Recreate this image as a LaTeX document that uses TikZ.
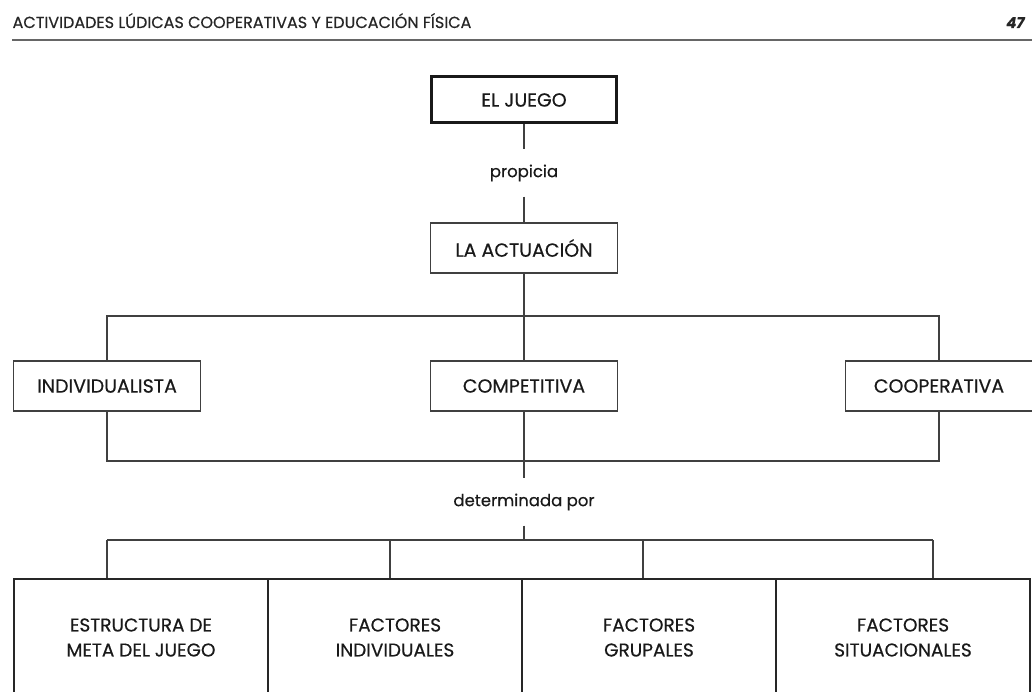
\documentclass[tikz,border=0pt]{standalone}
\usepackage{fontspec}
\setmainfont{Poppins}[FakeBold=0.4]
\begin{document}
\begin{tikzpicture}[x=1pt,y=-1pt,line width=1.2pt]
\tikzstyle{box}=[draw=black!75, rectangle, fill=white, inner sep=0pt, minimum width=187pt, minimum height=50pt, text=black!90, font=\fontsize{19}{22}\selectfont]
\tikzstyle{word}=[inner sep=0pt, minimum height=46pt, text=black!90, font=\fontsize{16.5}{20}\selectfont]
\tikzstyle{factor}=[box, line width=2.6pt, draw=black!85, minimum width=254pt, minimum height=117pt, align=center, font=\fontsize{18.5}{25}\selectfont]

\useasboundingbox (0,0) rectangle (1032,692);

% header of the page
\node[anchor=base west, inner sep=0pt, text=black!85, font=\fontsize{16}{18}\selectfont] (head) at (12,28) {ACTIVIDADES LÚDICAS COOPERATIVAS Y EDUCACIÓN FÍSICA};
\node[anchor=base east, inner sep=0pt, text=black!85, font=\fontsize{15}{18}\selectfont\bfseries\itshape] (page) at (1025,28) {47};
\draw[line width=2pt, black!60] (12,40) -- (1032,40);

\node[box, line width=3pt, draw=black!90, minimum width=185pt, minimum height=46pt] (juego) at (524,100) {EL JUEGO};
\node[word] (propicia) at (524,173) {propicia};
\node[box] (actuacion) at (524,248) {LA ACTUACIÓN};

\node[box] (indiv)  at (107,386) {INDIVIDUALISTA};
\node[box] (compet) at (524,386) {COMPETITIVA};
\node[box] (coop)   at (939,386) {COOPERATIVA};

\node[word] (det) at (524,502) {determinada por};

\node[factor] (meta)  at (141,637.5) {ESTRUCTURA DE\\META DEL JUEGO};
\node[factor] (indf)  at (395,637.5) {FACTORES\\INDIVIDUALES};
\node[factor] (grup)  at (649,637.5) {FACTORES\\GRUPALES};
\node[factor] (situ)  at (903,637.5) {FACTORES\\SITUACIONALES};

\coordinate (up)    at (524,316);
\coordinate (down)  at (524,461);
\coordinate (split) at (524,540);
\coordinate (f1) at (107,540);
\coordinate (f2) at (390,540);
\coordinate (f3) at (643,540);
\coordinate (f4) at (933,540);

\begin{scope}[draw=black!75]
\draw (juego) -- (propicia) -- (actuacion) -- (up);
\draw (indiv) |- (up) -| (coop);
\draw (up) -- (compet);
\draw (indiv) |- (down) -| (coop);
\draw (compet) -- (down) -- (det) -- (split);
\draw (f1) -- (f4);
\foreach \f in {f1,f2,f3,f4}
  \draw (\f) -- (\f |- meta.north);
\end{scope}
\end{tikzpicture}
\end{document}
